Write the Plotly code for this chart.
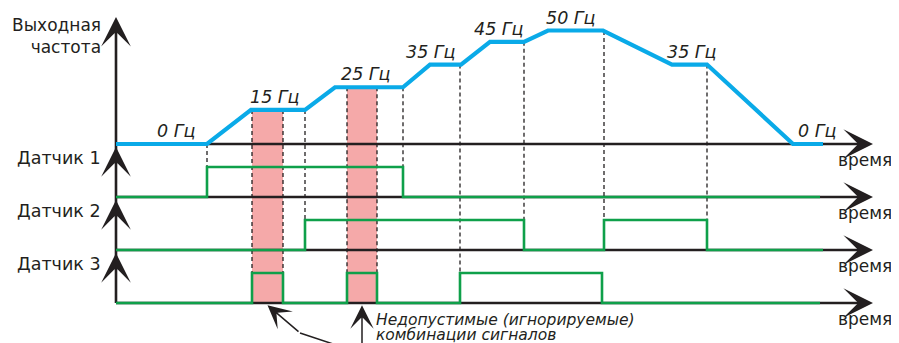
import numpy as np
import plotly.graph_objects as go

# output frequency profile (time in arbitrary units, frequency in Hz)
freq_t = [0, 91, 135, 189, 219, 287, 314, 345, 374, 408, 432, 487, 556, 591, 677, 707]
freq_hz = [0, 0, 15, 15, 25, 25, 35, 35, 45, 45, 50, 50, 35, 35, 0, 0]

# plateau labels
label_t = [60, 159, 250, 315, 383, 455, 576, 701]
label_hz = [0, 15, 25, 35, 45, 50, 35, 0]
label_txt = ["0 Гц", "15 Гц", "25 Гц", "35 Гц", "45 Гц", "50 Гц", "35 Гц", "0 Гц"]

# sensor signals: edge times and state after each edge
s1_t = [0, 91, 287, 704]
s1_on = [0, 1, 0, 0]
s2_t = [0, 189, 408, 488, 591, 707]
s2_on = [0, 1, 0, 1, 0, 0]
s3_t = [0, 136, 167, 231, 261, 344, 486, 704]
s3_on = [0, 1, 0, 1, 0, 1, 0, 0]
sensor_names = ["Датчик 1", "Датчик 2", "Датчик 3"]

# dashed guide lines: time and the sensor whose high level they reach
guide_t = [91, 136, 167, 189, 231, 261, 287, 344, 408, 488, 591]
guide_to = [1, 3, 3, 2, 3, 3, 1, 3, 2, 2, 2]

# invalid (ignored) signal combinations
bad_t0 = [136, 231]
bad_t1 = [167, 261]

BLUE = "#0aaae8"
GREEN = "#0fa04a"
INK = "#231f20"
PINK = "#f5a9a9"

LANE = 23.35      # spacing between sensor lanes, in Hz-units of the y axis
PULSE = 13.2      # height of a sensor pulse
T_END = 757       # time axis arrow tip
F_TIP = 56        # frequency axis arrow tip


def base(k):
    return -LANE * k


fig = go.Figure()

# pink bands
for a, b in zip(bad_t0, bad_t1):
    top = np.interp((a + b) / 2, freq_t, freq_hz)
    fig.add_shape(type="rect", xref="x", yref="y", x0=a, x1=b, y0=base(3), y1=top,
                  fillcolor=PINK, line_width=0, layer="below")

# dashed guides
for t, k in zip(guide_t, guide_to):
    f = np.interp(t, freq_t, freq_hz)
    fig.add_trace(go.Scatter(x=[t, t], y=[f, base(k) + PULSE], mode="lines",
                             line=dict(color=INK, width=1.3, dash="4px,3px"), hoverinfo="skip"))

# black axes
for k in range(4):
    fig.add_trace(go.Scatter(x=[0, T_END - 10], y=[base(k), base(k)], mode="lines",
                             line=dict(color=INK, width=2.6), hoverinfo="skip"))
fig.add_trace(go.Scatter(x=[0, 0], y=[base(3), F_TIP - 4], mode="lines",
                         line=dict(color=INK, width=2.6), hoverinfo="skip"))

# sensor signals
for k, (st, son) in enumerate([(s1_t, s1_on), (s2_t, s2_on), (s3_t, s3_on)], start=1):
    fig.add_trace(go.Scatter(x=st, y=[base(k) + PULSE * v for v in son], mode="lines",
                             line=dict(color=GREEN, width=2.6, shape="hv"), hoverinfo="skip"))

# frequency
fig.add_trace(go.Scatter(x=freq_t, y=freq_hz, mode="lines",
                         line=dict(color=BLUE, width=4.2), hoverinfo="skip"))

ann = []
arrow = dict(text="", showarrow=True, arrowhead=3, arrowcolor=INK, arrowwidth=2.6,
             arrowsize=1.9, axref="x", ayref="y", xref="x", yref="y", standoff=0)
# arrow heads of the axes
for k in range(4):
    ann.append(dict(arrow, x=T_END, y=base(k), ax=T_END - 12, ay=base(k)))
ann.append(dict(arrow, x=0, y=F_TIP, ax=0, ay=F_TIP - 8))
for k in range(1, 4):
    ann.append(dict(arrow, x=0, y=base(k) + 22, ax=0, ay=base(k) + 14))

txt = dict(showarrow=False, xref="x", yref="y", font=dict(family="DejaVu Sans", size=17.5, color=INK))
ann.append(dict(txt, x=-13, y=47.6, text="Выходная<br>частота", xanchor="right", align="right",
                font=dict(family="DejaVu Sans", size=17, color=INK)))
for k, name in enumerate(sensor_names, start=1):
    ann.append(dict(txt, x=-13, y=base(k) + 17.2, text=name, xanchor="right"))
for k in range(4):
    ann.append(dict(txt, x=778, y=base(k) - 7, text="время", xanchor="right",
                    font=dict(family="DejaVu Sans", size=17, color=INK)))
for t, f, s in zip(label_t, label_hz, label_txt):
    ann.append(dict(txt, x=t, y=f, text="<i>" + s + "</i>", yshift=13))

# note with pointers
b3 = base(3)
note = dict(txt, xanchor="left", font=dict(family="DejaVu Sans", size=15.5, color=INK))
ann.append(dict(note, x=258, y=b3 - 7.3, text="<i>Недопустимые (игнорируемые)</i>"))
ann.append(dict(note, x=258, y=b3 - 14.0, text="<i>комбинации сигналов</i>"))
thin = dict(arrow, arrowwidth=1.5, arrowsize=2.6)
c0 = (bad_t0[0] + bad_t1[0]) / 2
c1 = (bad_t0[1] + bad_t1[1]) / 2
ann.append(dict(thin, x=c0, y=b3 - 1, ax=184, ay=b3 - 13.2))
ann.append(dict(thin, x=c1, y=b3 - 1, ax=c1, ay=b3 - 22))
fig.add_trace(go.Scatter(x=[184, 244], y=[b3 - 13.2, b3 - 22], mode="lines",
                         line=dict(color=INK, width=1.5), hoverinfo="skip"))

# the page body has an 8 px margin, so the figure is 8 px smaller and the
# axis ranges start 8 px later
fig.update_layout(
    width=891, height=335,
    margin=dict(l=0, r=0, t=0, b=0),
    paper_bgcolor="white", plot_bgcolor="white",
    showlegend=False,
    annotations=ann,
    xaxis=dict(range=[-108, 783], visible=False, fixedrange=True),
    yaxis=dict(range=[-87.67, 59.91], visible=False, fixedrange=True),
)

fig.write_html("out.html")
